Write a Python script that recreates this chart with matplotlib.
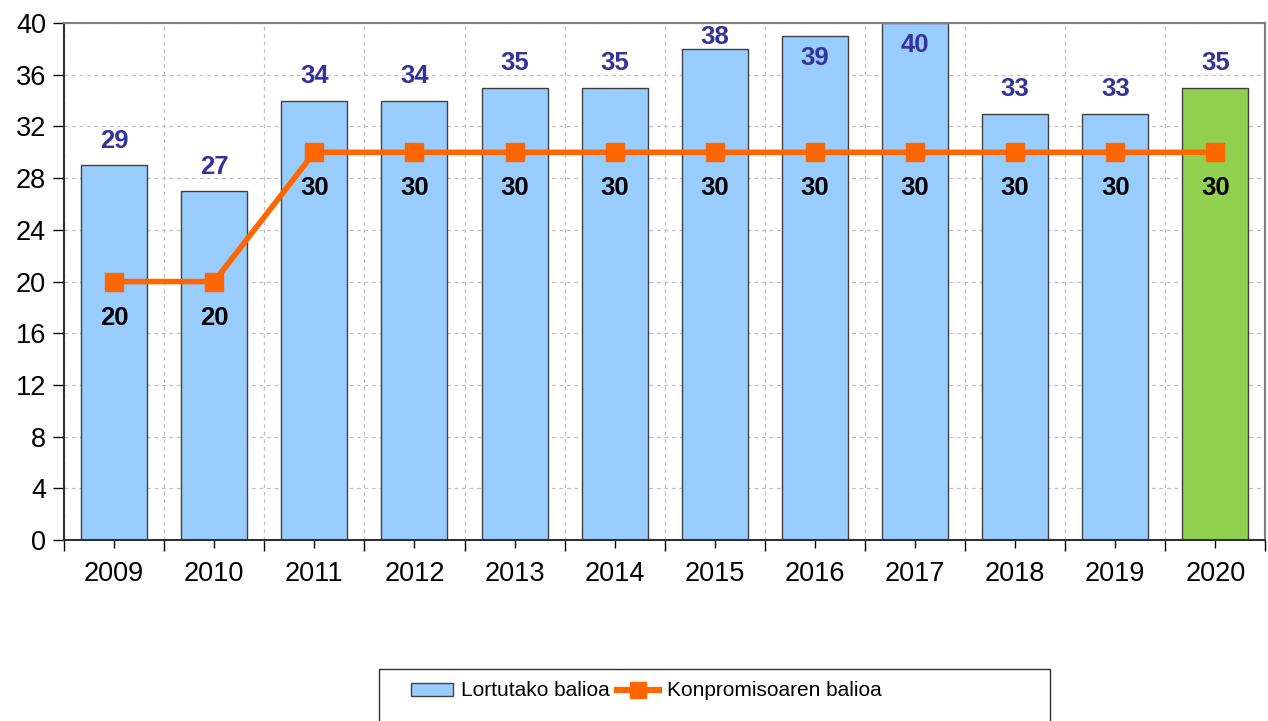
import numpy as np
import matplotlib.pyplot as plt
from matplotlib.lines import Line2D
from matplotlib.patches import Patch, Rectangle

plt.rcParams['font.family'] = ['Liberation Sans', 'DejaVu Sans']

years = ['2009', '2010', '2011', '2012', '2013', '2014', '2015', '2016', '2017', '2018', '2019', '2020']
lortutako = [29, 27, 34, 34, 35, 35, 38, 39, 40, 33, 33, 35]
konpromiso = [20, 20, 30, 30, 30, 30, 30, 30, 30, 30, 30, 30]

x = np.arange(len(years))
fig = plt.figure(figsize=(12.68, 7.21), dpi=100)
ax = fig.add_axes([0.0505, 0.251, 0.9475, 0.717])

colors = ['#99CCFF'] * (len(years) - 1) + ['#92D050']
ax.bar(x, lortutako, width=0.66, color=colors, edgecolor='#404040', linewidth=1, zorder=2)
ax.plot(x, konpromiso, color='#FF6600', linewidth=4, marker='s', markersize=13, zorder=3)

# etiketak
for i, v in enumerate(lortutako):
    if v <= 36:
        y = v + 1.9
    elif v <= 38:
        y = v + 0.9
    else:
        y = v - 1.7
    ax.text(x[i], y, str(v), ha='center', va='center', color='#333399',
            fontsize=18.5, fontweight='bold', zorder=4)
for i, v in enumerate(konpromiso):
    ax.text(x[i], v - 2.8, str(v), ha='center', va='center', color='black',
            fontsize=18.5, fontweight='bold', zorder=4)

ax.set_xlim(-0.5, len(years) - 0.5)
ax.set_ylim(0, 40)
ax.set_yticks(np.arange(0, 41, 4))
ax.set_xticks(x)
ax.set_xticklabels(years)
ax.set_xticks(np.arange(-0.5, len(years), 1), minor=True)
ax.tick_params(axis='x', which='major', length=6, width=1, labelsize=19.5, pad=9)
ax.tick_params(axis='x', which='minor', length=8, width=1)
ax.tick_params(axis='y', length=8, width=1, labelsize=19.5, pad=5)

ax.grid(axis='y', which='major', color='#c0c0c0', linestyle=(0, (3, 3)), linewidth=0.9, zorder=0)
ax.grid(axis='x', which='minor', color='#c0c0c0', linestyle=(0, (3, 3)), linewidth=0.9, zorder=0)
ax.set_axisbelow(True)

ax.spines['left'].set_color('#303030')
ax.spines['bottom'].set_color('#303030')
ax.spines['top'].set_color('#808080')
ax.spines['right'].set_color('#808080')
for s in ax.spines.values():
    s.set_linewidth(1.5)

# legenda
W, H = 1268, 721
fig.patches.append(Rectangle((379 / W, -0.05), (1050 - 379) / W, (H - 669) / H + 0.05,
                             transform=fig.transFigure, facecolor='white',
                             edgecolor='#303030', linewidth=1))
handles = [Patch(facecolor='#99CCFF', edgecolor='#404040', linewidth=1),
           Line2D([0], [0], color='#FF6600', linewidth=4.5, marker='s', markersize=11)]
leg = fig.legend(handles, ['Lortutako balioa', 'Konpromisoaren balioa'], ncol=2,
                 loc='center left', bbox_to_anchor=(401 / W, 1 - 691 / H), fontsize=15,
                 frameon=False, handlelength=2.0, columnspacing=0.35, handletextpad=0.4,
                 borderpad=0, handleheight=0.6)

fig.savefig('out.png', dpi=100)
